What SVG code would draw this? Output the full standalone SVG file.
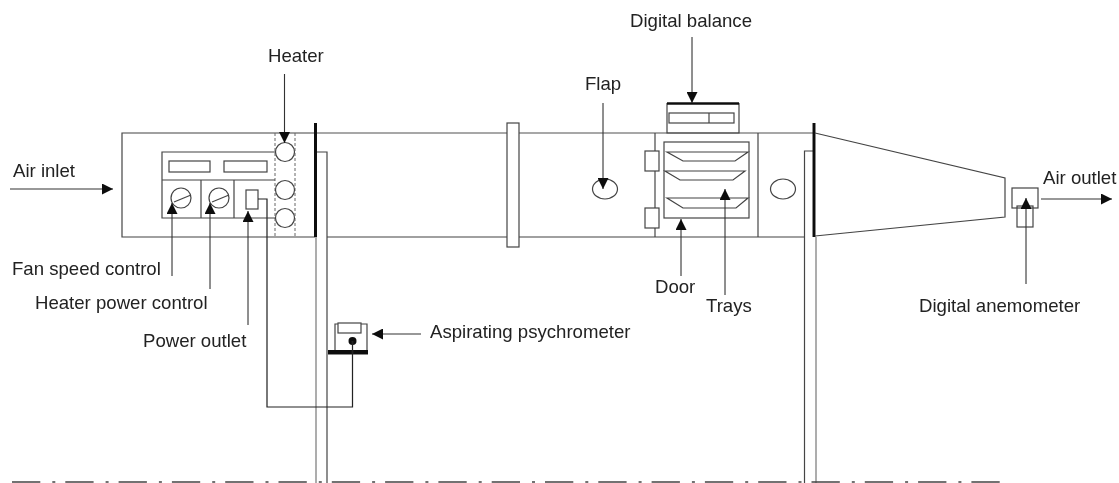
<svg xmlns="http://www.w3.org/2000/svg" width="1119" height="483" viewBox="0 0 1119 483">
<defs>
<marker id="arrow" markerUnits="userSpaceOnUse" markerWidth="12" markerHeight="11" refX="11" refY="5.5" orient="auto"><path d="M0 0L11 5.5L0 11Z" fill="#111"/></marker>
<filter id="soft" x="0" y="0" width="100%" height="100%"><feGaussianBlur stdDeviation="0.45"/></filter>
</defs>
<style>
.l{fill:none;stroke:#444;stroke-width:1.2}
.g{fill:none;stroke:#8a8a8a;stroke-width:1.4}
.t{fill:none;stroke:#111;stroke-width:3}
.d{fill:none;stroke:#666;stroke-width:1;stroke-dasharray:3 2}
.w{fill:#fff;stroke:#444;stroke-width:1.2}
.a{fill:none;stroke:#333;stroke-width:1.1;marker-end:url(#arrow)}
text{font-family:"Liberation Sans",Arial,sans-serif;font-size:18.6px;fill:#222}
</style>
<rect width="1119" height="483" fill="#fff"/>
<g filter="url(#soft)">
<g id="duct">
<path class="l" d="M315 133H122V237H315"/>
<path class="g" d="M315 133H814"/>
<path class="l" d="M327 237H805"/>
<path class="l" d="M316 152H327V483"/>
<path class="g" d="M316 237V483"/>
<path class="l" d="M804.500 483V151H813"/>
<path class="g" d="M816 237V483"/>
<path class="t" d="M315.500 123V237"/>
<path class="t" d="M814 123V237"/>
<rect class="w" x="507" y="123" width="12" height="124"/>
<path class="l" d="M815 133L1005 178V217L815 236"/>
<path d="M12 482H1000" fill="none" stroke="#444" stroke-width="1.500" stroke-dasharray="28.300 12 3 10"/>
</g>
<g id="heater">
<path class="d" d="M275 133V237M295 133V237"/>
<circle class="w" cx="285" cy="152" r="9.500"/>
<circle class="w" cx="285" cy="190" r="9.500"/>
<circle class="w" cx="285" cy="218" r="9.500"/>
</g>
<g id="control-panel">
<path class="l" d="M275 152H162V218H275"/>
<path class="l" d="M162 180H275M201 180V218M234 180V218"/>
<rect class="l" x="169" y="161" width="41" height="11"/>
<rect class="l" x="224" y="161" width="43" height="11"/>
<circle class="l" cx="181" cy="198" r="10"/>
<path class="l" d="M174 202L191 195"/>
<circle class="l" cx="219" cy="198" r="10"/>
<path class="l" d="M212 202L229 195"/>
<rect class="l" x="246" y="190" width="12" height="19"/>
</g>
<g id="flap"><ellipse class="l" cx="605" cy="189" rx="12.500" ry="10"/></g>
<g id="flap-2"><ellipse class="l" cx="783" cy="189" rx="12.500" ry="10"/></g>
<g id="door">
<path class="l" d="M655 133V237"/>
<rect class="w" x="645" y="151" width="14" height="20"/>
<rect class="w" x="645" y="208" width="14" height="20"/>
</g>
<g id="trays">
<rect class="l" x="664" y="142" width="85" height="76"/>
<path class="l" d="M667 152H748L735 161H683Z"/>
<path class="l" d="M665 171H745L733 180H680Z"/>
<path class="l" d="M667 198H748L736 208H683Z"/>
<path class="l" d="M758 133V237"/>
</g>
<g id="balance">
<path class="l" d="M667 103V133H739V103"/>
<path d="M667 103.500H739" fill="none" stroke="#111" stroke-width="2.500"/>
<rect class="l" x="669" y="113" width="65" height="10"/>
<path class="l" d="M709 113V123"/>
</g>
<g id="anemometer">
<rect class="l" x="1012" y="188" width="26" height="20"/>
<rect class="l" x="1017" y="206" width="16" height="21"/>
</g>
<g id="psychrometer">
<path class="l" d="M335 350V324H367V350"/>
<rect class="w" x="338" y="323" width="23" height="10"/>
<circle cx="352.500" cy="341" r="4" fill="#111"/>
<rect x="328" y="350" width="40" height="4.500" fill="#111"/>
</g>
<g id="connectors">
<path class="l" d="M258 199H267V407H352.500V341" style="stroke:#222"/>
<path class="a" d="M10 189H113"/>
<path class="a" d="M284.500 74V143"/>
<path class="a" d="M692 37V103"/>
<path class="a" d="M603 103V189"/>
<path class="a" d="M172 276V203"/>
<path class="a" d="M210 289V203"/>
<path class="a" d="M248 325V211"/>
<path class="a" d="M681 276V219"/>
<path class="a" d="M725 295V189"/>
<path class="a" d="M421 334H372"/>
<path class="a" d="M1026 284V198"/>
<path class="a" d="M1041 199H1112"/>
</g>
<g id="labels">
<text x="630" y="27">Digital balance</text>
<text x="268" y="62">Heater</text>
<text x="585" y="90">Flap</text>
<text x="13" y="177">Air inlet</text>
<text x="1043" y="184">Air outlet</text>
<text x="12" y="275">Fan speed control</text>
<text x="35" y="309">Heater power control</text>
<text x="143" y="347">Power outlet</text>
<text x="655" y="293">Door</text>
<text x="706" y="312">Trays</text>
<text x="430" y="338">Aspirating psychrometer</text>
<text x="919" y="312">Digital anemometer</text>
</g>
</g>
</svg>
